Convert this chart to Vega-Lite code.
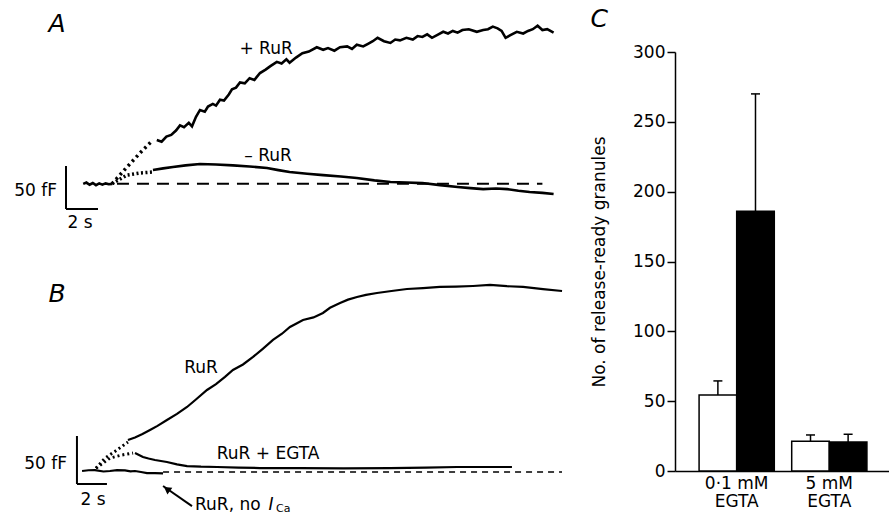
{
  "$schema": "https://vega.github.io/schema/vega-lite/v6.json",
  "padding": 0,
  "background": "white",
  "config": {"view": {"stroke": null}, "font": "DejaVu Sans", "text": {"color": "black"}},
  "datasets": {
    "a": [
      {"s": "base", "t": -1.8, "f": 0}, {"s": "base", "t": -1.6, "f": 1.5}, {"s": "base", "t": -1.4, "f": -1}, {"s": "base", "t": -1.2, "f": 1}, {"s": "base", "t": -1.0, "f": -1.5}, {"s": "base", "t": -0.8, "f": 0.5}, {"s": "base", "t": -0.6, "f": -1}, {"s": "base", "t": -0.4, "f": 0.5}, {"s": "base", "t": -0.2, "f": -0.5}, {"s": "base", "t": 0, "f": 0},
      {"s": "plusdot", "t": 0, "f": 0}, {"s": "plusdot", "t": 0.94, "f": 19.6}, {"s": "plusdot", "t": 1.75, "f": 35.9}, {"s": "plusdot", "t": 2.56, "f": 51.1},
      {"s": "minusdot", "t": 0, "f": 0}, {"s": "minusdot", "t": 0.94, "f": 10.2}, {"s": "minusdot", "t": 1.75, "f": 12.6}, {"s": "minusdot", "t": 2.5, "f": 13.7},
      {"s": "plus", "t": 2.8, "f": 51}, {"s": "plus", "t": 3.1, "f": 49}, {"s": "plus", "t": 3.4, "f": 55}, {"s": "plus", "t": 3.7, "f": 57}, {"s": "plus", "t": 4.0, "f": 62}, {"s": "plus", "t": 4.25, "f": 68}, {"s": "plus", "t": 4.5, "f": 66}, {"s": "plus", "t": 4.8, "f": 71}, {"s": "plus", "t": 5.0, "f": 67}, {"s": "plus", "t": 5.25, "f": 78}, {"s": "plus", "t": 5.5, "f": 86}, {"s": "plus", "t": 5.8, "f": 84}, {"s": "plus", "t": 6.0, "f": 90}, {"s": "plus", "t": 6.3, "f": 93}, {"s": "plus", "t": 6.5, "f": 91}, {"s": "plus", "t": 6.75, "f": 98}, {"s": "plus", "t": 7.0, "f": 97}, {"s": "plus", "t": 7.3, "f": 104}, {"s": "plus", "t": 7.5, "f": 110}, {"s": "plus", "t": 7.75, "f": 112}, {"s": "plus", "t": 8.0, "f": 118}, {"s": "plus", "t": 8.3, "f": 117}, {"s": "plus", "t": 8.6, "f": 123}, {"s": "plus", "t": 8.9, "f": 121}, {"s": "plus", "t": 9.25, "f": 129}, {"s": "plus", "t": 9.6, "f": 133}, {"s": "plus", "t": 9.9, "f": 137}, {"s": "plus", "t": 10.3, "f": 142}, {"s": "plus", "t": 10.6, "f": 140}, {"s": "plus", "t": 10.9, "f": 145}, {"s": "plus", "t": 11.1, "f": 141}, {"s": "plus", "t": 11.5, "f": 147}, {"s": "plus", "t": 11.9, "f": 152}, {"s": "plus", "t": 12.3, "f": 154}, {"s": "plus", "t": 12.8, "f": 159}, {"s": "plus", "t": 13.2, "f": 156}, {"s": "plus", "t": 13.5, "f": 158}, {"s": "plus", "t": 13.9, "f": 155}, {"s": "plus", "t": 14.25, "f": 159}, {"s": "plus", "t": 14.7, "f": 160}, {"s": "plus", "t": 15.0, "f": 157}, {"s": "plus", "t": 15.3, "f": 162}, {"s": "plus", "t": 15.7, "f": 160}, {"s": "plus", "t": 16.0, "f": 163}, {"s": "plus", "t": 16.3, "f": 166}, {"s": "plus", "t": 16.6, "f": 170}, {"s": "plus", "t": 17.0, "f": 166}, {"s": "plus", "t": 17.4, "f": 164}, {"s": "plus", "t": 17.7, "f": 168}, {"s": "plus", "t": 18.0, "f": 167}, {"s": "plus", "t": 18.4, "f": 170}, {"s": "plus", "t": 18.8, "f": 168}, {"s": "plus", "t": 19.1, "f": 172}, {"s": "plus", "t": 19.4, "f": 171}, {"s": "plus", "t": 19.7, "f": 174}, {"s": "plus", "t": 20.0, "f": 170}, {"s": "plus", "t": 20.4, "f": 174}, {"s": "plus", "t": 20.7, "f": 177}, {"s": "plus", "t": 21.0, "f": 175}, {"s": "plus", "t": 21.3, "f": 178}, {"s": "plus", "t": 21.6, "f": 176}, {"s": "plus", "t": 21.9, "f": 179}, {"s": "plus", "t": 22.3, "f": 180}, {"s": "plus", "t": 22.8, "f": 177}, {"s": "plus", "t": 23.2, "f": 179}, {"s": "plus", "t": 23.5, "f": 180}, {"s": "plus", "t": 23.8, "f": 183}, {"s": "plus", "t": 24.1, "f": 181}, {"s": "plus", "t": 24.35, "f": 178}, {"s": "plus", "t": 24.6, "f": 170}, {"s": "plus", "t": 24.9, "f": 173}, {"s": "plus", "t": 25.3, "f": 177}, {"s": "plus", "t": 25.7, "f": 175}, {"s": "plus", "t": 26.0, "f": 178}, {"s": "plus", "t": 26.3, "f": 180}, {"s": "plus", "t": 26.6, "f": 184}, {"s": "plus", "t": 26.9, "f": 179}, {"s": "plus", "t": 27.2, "f": 180}, {"s": "plus", "t": 27.6, "f": 176},
      {"s": "minus", "t": 2.56, "f": 16.1}, {"s": "minus", "t": 3.2, "f": 18}, {"s": "minus", "t": 3.81, "f": 19.6}, {"s": "minus", "t": 4.6, "f": 21.5}, {"s": "minus", "t": 5.5, "f": 23.1}, {"s": "minus", "t": 6.5, "f": 22.5}, {"s": "minus", "t": 7.56, "f": 21.5}, {"s": "minus", "t": 8.6, "f": 20.2}, {"s": "minus", "t": 9.69, "f": 18.4}, {"s": "minus", "t": 10.4, "f": 16}, {"s": "minus", "t": 11.1, "f": 13.7}, {"s": "minus", "t": 12.2, "f": 11.8}, {"s": "minus", "t": 13.2, "f": 10.2}, {"s": "minus", "t": 14.3, "f": 8.5}, {"s": "minus", "t": 15.3, "f": 6.8}, {"s": "minus", "t": 16.4, "f": 4}, {"s": "minus", "t": 17.4, "f": 2.1}, {"s": "minus", "t": 18.4, "f": 1.5}, {"s": "minus", "t": 19.4, "f": 0.9}, {"s": "minus", "t": 20.5, "f": -1.5}, {"s": "minus", "t": 21.6, "f": -3.7}, {"s": "minus", "t": 22.4, "f": -5}, {"s": "minus", "t": 23.2, "f": -6.1}, {"s": "minus", "t": 24.0, "f": -5.5}, {"s": "minus", "t": 24.7, "f": -6.1}, {"s": "minus", "t": 25.4, "f": -8}, {"s": "minus", "t": 26.1, "f": -9.5}, {"s": "minus", "t": 26.9, "f": -10.5}, {"s": "minus", "t": 27.6, "f": -11.9},
      {"s": "dash", "t": 0.31, "f": 0}, {"s": "dash", "t": 26.9, "f": 0},
      {"s": "bar", "t": -2.875, "f": -29.3, "t2": -2.875, "f2": 20.7}, {"s": "bar", "t": -2.875, "f": -29.3, "t2": -0.875, "f2": -29.3},
      {"s": "letter", "t": -3.44, "f": 186, "label": "A"},
      {"s": "lab", "t": 9.63, "f": 156.9, "label": "+ RuR"}, {"s": "lab", "t": 9.75, "f": 32.4, "label": "– RuR"}, {"s": "lab", "t": -2.0, "f": -45.6, "label": "2 s"},
      {"s": "labr", "t": -3.44, "f": -8.4, "label": "50 fF"}
    ],
    "b": [
      {"s": "noca", "t": -0.93, "f": 0}, {"s": "noca", "t": -0.5, "f": 0.8}, {"s": "noca", "t": -0.07, "f": 1}, {"s": "noca", "t": 0.5, "f": -0.5}, {"s": "noca", "t": 0.93, "f": 0}, {"s": "noca", "t": 1.4, "f": 1}, {"s": "noca", "t": 1.93, "f": 0.6}, {"s": "noca", "t": 2.3, "f": -0.3}, {"s": "noca", "t": 2.6, "f": 0}, {"s": "noca", "t": 3.0, "f": -1}, {"s": "noca", "t": 3.4, "f": -2.1}, {"s": "noca", "t": 3.93, "f": -2.1}, {"s": "noca", "t": 4.47, "f": -2.5},
      {"s": "rurdot", "t": 0, "f": 3}, {"s": "rurdot", "t": 0.6, "f": 13.5}, {"s": "rurdot", "t": 1.4, "f": 21.9}, {"s": "rurdot", "t": 2.13, "f": 30.2},
      {"s": "egtadot", "t": 0, "f": 3}, {"s": "egtadot", "t": 0.93, "f": 13.5}, {"s": "egtadot", "t": 1.73, "f": 16.7}, {"s": "egtadot", "t": 2.47, "f": 18.75},
      {"s": "rur", "t": 2.13, "f": 32.3}, {"s": "rur", "t": 2.6, "f": 35}, {"s": "rur", "t": 3.1, "f": 38.5}, {"s": "rur", "t": 3.6, "f": 42.7}, {"s": "rur", "t": 4.1, "f": 47}, {"s": "rur", "t": 4.73, "f": 53.1}, {"s": "rur", "t": 5.4, "f": 59.5}, {"s": "rur", "t": 6.07, "f": 66.7}, {"s": "rur", "t": 6.7, "f": 75}, {"s": "rur", "t": 7.4, "f": 84.4}, {"s": "rur", "t": 8.0, "f": 90.5}, {"s": "rur", "t": 8.6, "f": 98}, {"s": "rur", "t": 9.13, "f": 105.2}, {"s": "rur", "t": 9.8, "f": 111}, {"s": "rur", "t": 10.47, "f": 118.8}, {"s": "rur", "t": 11.1, "f": 127}, {"s": "rur", "t": 11.8, "f": 136.5}, {"s": "rur", "t": 12.4, "f": 143}, {"s": "rur", "t": 12.93, "f": 150}, {"s": "rur", "t": 13.4, "f": 154}, {"s": "rur", "t": 13.8, "f": 157.3}, {"s": "rur", "t": 14.5, "f": 160}, {"s": "rur", "t": 15.13, "f": 164.6}, {"s": "rur", "t": 15.6, "f": 170}, {"s": "rur", "t": 16.27, "f": 175}, {"s": "rur", "t": 16.8, "f": 178.5}, {"s": "rur", "t": 17.4, "f": 181.3}, {"s": "rur", "t": 18.0, "f": 183.5}, {"s": "rur", "t": 18.73, "f": 185.4}, {"s": "rur", "t": 19.7, "f": 187.5}, {"s": "rur", "t": 20.73, "f": 189.6}, {"s": "rur", "t": 21.8, "f": 190.5}, {"s": "rur", "t": 22.93, "f": 191.7}, {"s": "rur", "t": 24.0, "f": 192}, {"s": "rur", "t": 25.13, "f": 192.7}, {"s": "rur", "t": 26.27, "f": 193.8}, {"s": "rur", "t": 27.4, "f": 192.5}, {"s": "rur", "t": 28.47, "f": 191.7}, {"s": "rur", "t": 29.8, "f": 189.5}, {"s": "rur", "t": 31.07, "f": 187.5},
      {"s": "egta", "t": 2.6, "f": 18.75}, {"s": "egta", "t": 3.13, "f": 14.6}, {"s": "egta", "t": 3.5, "f": 13}, {"s": "egta", "t": 3.93, "f": 11.5}, {"s": "egta", "t": 4.73, "f": 9.4}, {"s": "egta", "t": 5.4, "f": 7}, {"s": "egta", "t": 6.07, "f": 5.2}, {"s": "egta", "t": 7.0, "f": 4.5}, {"s": "egta", "t": 8.07, "f": 4.2}, {"s": "egta", "t": 9.5, "f": 3.6}, {"s": "egta", "t": 10.93, "f": 3.1}, {"s": "egta", "t": 13.6, "f": 3.1}, {"s": "egta", "t": 16.5, "f": 2.8}, {"s": "egta", "t": 19.6, "f": 3.1}, {"s": "egta", "t": 22, "f": 3.5}, {"s": "egta", "t": 24.07, "f": 4.2}, {"s": "egta", "t": 26.27, "f": 4.2}, {"s": "egta", "t": 27.73, "f": 4.2},
      {"s": "dash", "t": 4.47, "f": -1}, {"s": "dash", "t": 31.07, "f": -1},
      {"s": "bar", "t": -1.27, "f": -13.5, "t2": -1.27, "f2": 36.5}, {"s": "bar", "t": -1.27, "f": -13.5, "t2": 0.73, "f2": -13.5},
      {"s": "arrow", "t": 4.47, "f": -15.6, "t2": 6.4, "f2": -36.5},
      {"s": "head", "t": 4.73, "f": -18.75},
      {"s": "letter", "t": -2.6, "f": 184.4, "label": "B"},
      {"s": "lab", "t": 7.0, "f": 107.3, "label": "RuR"}, {"s": "lab", "t": 11.47, "f": 17.7, "label": "RuR + EGTA"}, {"s": "lab", "t": -0.2, "f": -30.2, "label": "2 s"},
      {"s": "labr", "t": -1.93, "f": 7.3, "label": "50 fF"},
      {"s": "labl", "t": 6.6, "f": -35.5, "label": "RuR, no"},
      {"s": "ital", "t": 11.5, "f": -35.5, "label": "I"},
      {"s": "sub", "t": 12.0, "f": -39.5, "label": "Ca"}
    ],
    "bars": [
      {"grp": "0·1 mM EGTA", "cond": "control", "value": 54.5, "upper": 64.5},
      {"grp": "0·1 mM EGTA", "cond": "RuR", "value": 186, "upper": 270},
      {"grp": "5 mM EGTA", "cond": "control", "value": 21.3, "upper": 25.8},
      {"grp": "5 mM EGTA", "cond": "RuR", "value": 20.8, "upper": 26.3}
    ]
  },
  "hconcat": [
    {
      "vconcat": [
        {
          "width": 580, "height": 250,
          "data": {"name": "a"},
          "encoding": {
            "x": {"field": "t", "type": "quantitative", "scale": {"domain": [-7, 29.25], "nice": false, "zero": false}, "axis": null},
            "y": {"field": "f", "type": "quantitative", "scale": {"domain": [-77, 214], "nice": false, "zero": false}, "axis": null}
          },
          "layer": [
            {"transform": [{"filter": "datum.s=='base' || datum.s=='plus' || datum.s=='minus'"}], "mark": {"type": "line", "color": "black", "strokeWidth": 2.6}, "encoding": {"detail": {"field": "s"}}},
            {"transform": [{"filter": "datum.s=='plusdot'"}], "mark": {"type": "line", "color": "black", "strokeWidth": 3.5, "strokeDash": [2.5, 3.5]}},
            {"transform": [{"filter": "datum.s=='minusdot'"}], "mark": {"type": "line", "color": "black", "strokeWidth": 3.5, "strokeDash": [2, 2.5]}},
            {"transform": [{"filter": "datum.s=='dash'"}], "mark": {"type": "line", "color": "black", "strokeWidth": 2, "strokeDash": [12, 8]}},
            {"transform": [{"filter": "datum.s=='bar'"}], "mark": {"type": "rule", "color": "black", "strokeWidth": 2}, "encoding": {"x2": {"field": "t2"}, "y2": {"field": "f2"}}},
            {"transform": [{"filter": "datum.s=='letter'"}], "mark": {"type": "text", "fontSize": 25, "fontStyle": "italic", "baseline": "middle"}, "encoding": {"text": {"field": "label"}}},
            {"transform": [{"filter": "datum.s=='lab'"}], "mark": {"type": "text", "fontSize": 17, "baseline": "middle"}, "encoding": {"text": {"field": "label"}}},
            {"transform": [{"filter": "datum.s=='labr'"}], "mark": {"type": "text", "fontSize": 17, "baseline": "middle", "align": "right"}, "encoding": {"text": {"field": "label"}}}
          ]
        },
        {
          "width": 580, "height": 260,
          "data": {"name": "b"},
          "encoding": {
            "x": {"field": "t", "type": "quantitative", "scale": {"domain": [-6.4, 32.267], "nice": false, "zero": false}, "axis": null},
            "y": {"field": "f", "type": "quantitative", "scale": {"domain": [-45.8, 225], "nice": false, "zero": false}, "axis": null}
          },
          "layer": [
            {"transform": [{"filter": "datum.s=='noca' || datum.s=='rur' || datum.s=='egta'"}], "mark": {"type": "line", "color": "black", "strokeWidth": 2.2}, "encoding": {"detail": {"field": "s"}}},
            {"transform": [{"filter": "datum.s=='rurdot' || datum.s=='egtadot'"}], "mark": {"type": "line", "color": "black", "strokeWidth": 3, "strokeDash": [2, 3]}, "encoding": {"detail": {"field": "s"}}},
            {"transform": [{"filter": "datum.s=='dash'"}], "mark": {"type": "line", "color": "black", "strokeWidth": 1.5, "strokeDash": [6, 5]}},
            {"transform": [{"filter": "datum.s=='bar' || datum.s=='arrow'"}], "mark": {"type": "rule", "color": "black", "strokeWidth": 2}, "encoding": {"x2": {"field": "t2"}, "y2": {"field": "f2"}}},
            {"transform": [{"filter": "datum.s=='head'"}], "mark": {"type": "point", "shape": "triangle-up", "filled": true, "color": "black", "size": 70, "angle": 306, "opacity": 1}},
            {"transform": [{"filter": "datum.s=='letter'"}], "mark": {"type": "text", "fontSize": 25, "fontStyle": "italic", "baseline": "middle"}, "encoding": {"text": {"field": "label"}}},
            {"transform": [{"filter": "datum.s=='lab'"}], "mark": {"type": "text", "fontSize": 17, "baseline": "middle"}, "encoding": {"text": {"field": "label"}}},
            {"transform": [{"filter": "datum.s=='labr'"}], "mark": {"type": "text", "fontSize": 17, "baseline": "middle", "align": "right"}, "encoding": {"text": {"field": "label"}}},
            {"transform": [{"filter": "datum.s=='labl'"}], "mark": {"type": "text", "fontSize": 17, "baseline": "middle", "align": "left"}, "encoding": {"text": {"field": "label"}}},
            {"transform": [{"filter": "datum.s=='ital'"}], "mark": {"type": "text", "fontSize": 17, "fontStyle": "italic", "baseline": "middle", "align": "left"}, "encoding": {"text": {"field": "label"}}},
            {"transform": [{"filter": "datum.s=='sub'"}], "mark": {"type": "text", "fontSize": 11, "baseline": "middle", "align": "left"}, "encoding": {"text": {"field": "label"}}}
          ]
        }
      ],
      "spacing": 5,
      "bounds": "flush"
    },
    {
      "width": 216, "height": 471,
      "data": {"name": "bars"},
      "title": {"text": "C", "anchor": "start", "frame": "bounds", "fontSize": 25, "fontStyle": "italic", "fontWeight": "normal", "offset": -32, "color": "black"},
      "encoding": {
        "x": {"field": "grp", "type": "nominal", "sort": null, "scale": {"paddingInner": 0.188, "paddingOuter": 0.26},
              "axis": {"title": null, "ticks": false, "labelAngle": 0, "domainColor": "black", "domainWidth": 1.5, "labelFontSize": 17, "labelColor": "black", "labelPadding": 4, "labelLineHeight": 18, "labelExpr": "[replace(datum.label, ' EGTA', ''), 'EGTA']"}},
        "xOffset": {"field": "cond", "type": "nominal", "sort": null, "scale": {"paddingInner": 0, "paddingOuter": 0}}
      },
      "layer": [
        {"mark": {"type": "bar", "stroke": "black", "strokeWidth": 1.5},
         "encoding": {
           "y": {"field": "value", "type": "quantitative", "scale": {"domain": [0, 300], "range": [471, 52], "nice": false},
                 "axis": {"values": [0, 50, 100, 150, 200, 250, 300], "grid": false, "tickSize": 8, "tickWidth": 1.5, "tickColor": "black", "domainColor": "black", "domainWidth": 1.5, "labelFontSize": 17, "labelColor": "black", "labelPadding": 2, "title": "No. of release-ready granules", "titleFontSize": 17, "titleFontWeight": "normal", "titleColor": "black", "titlePadding": 24}},
           "fill": {"field": "cond", "type": "nominal", "scale": {"domain": ["control", "RuR"], "range": ["white", "black"]}, "legend": null}
         }},
        {"mark": {"type": "rule", "strokeWidth": 1.5, "color": "black"}, "encoding": {"y": {"field": "value", "type": "quantitative"}, "y2": {"field": "upper"}}},
        {"mark": {"type": "tick", "thickness": 1.5, "size": 9, "color": "black", "opacity": 1}, "encoding": {"y": {"field": "upper", "type": "quantitative"}}}
      ]
    }
  ],
  "spacing": 10,
  "bounds": "full"
}
